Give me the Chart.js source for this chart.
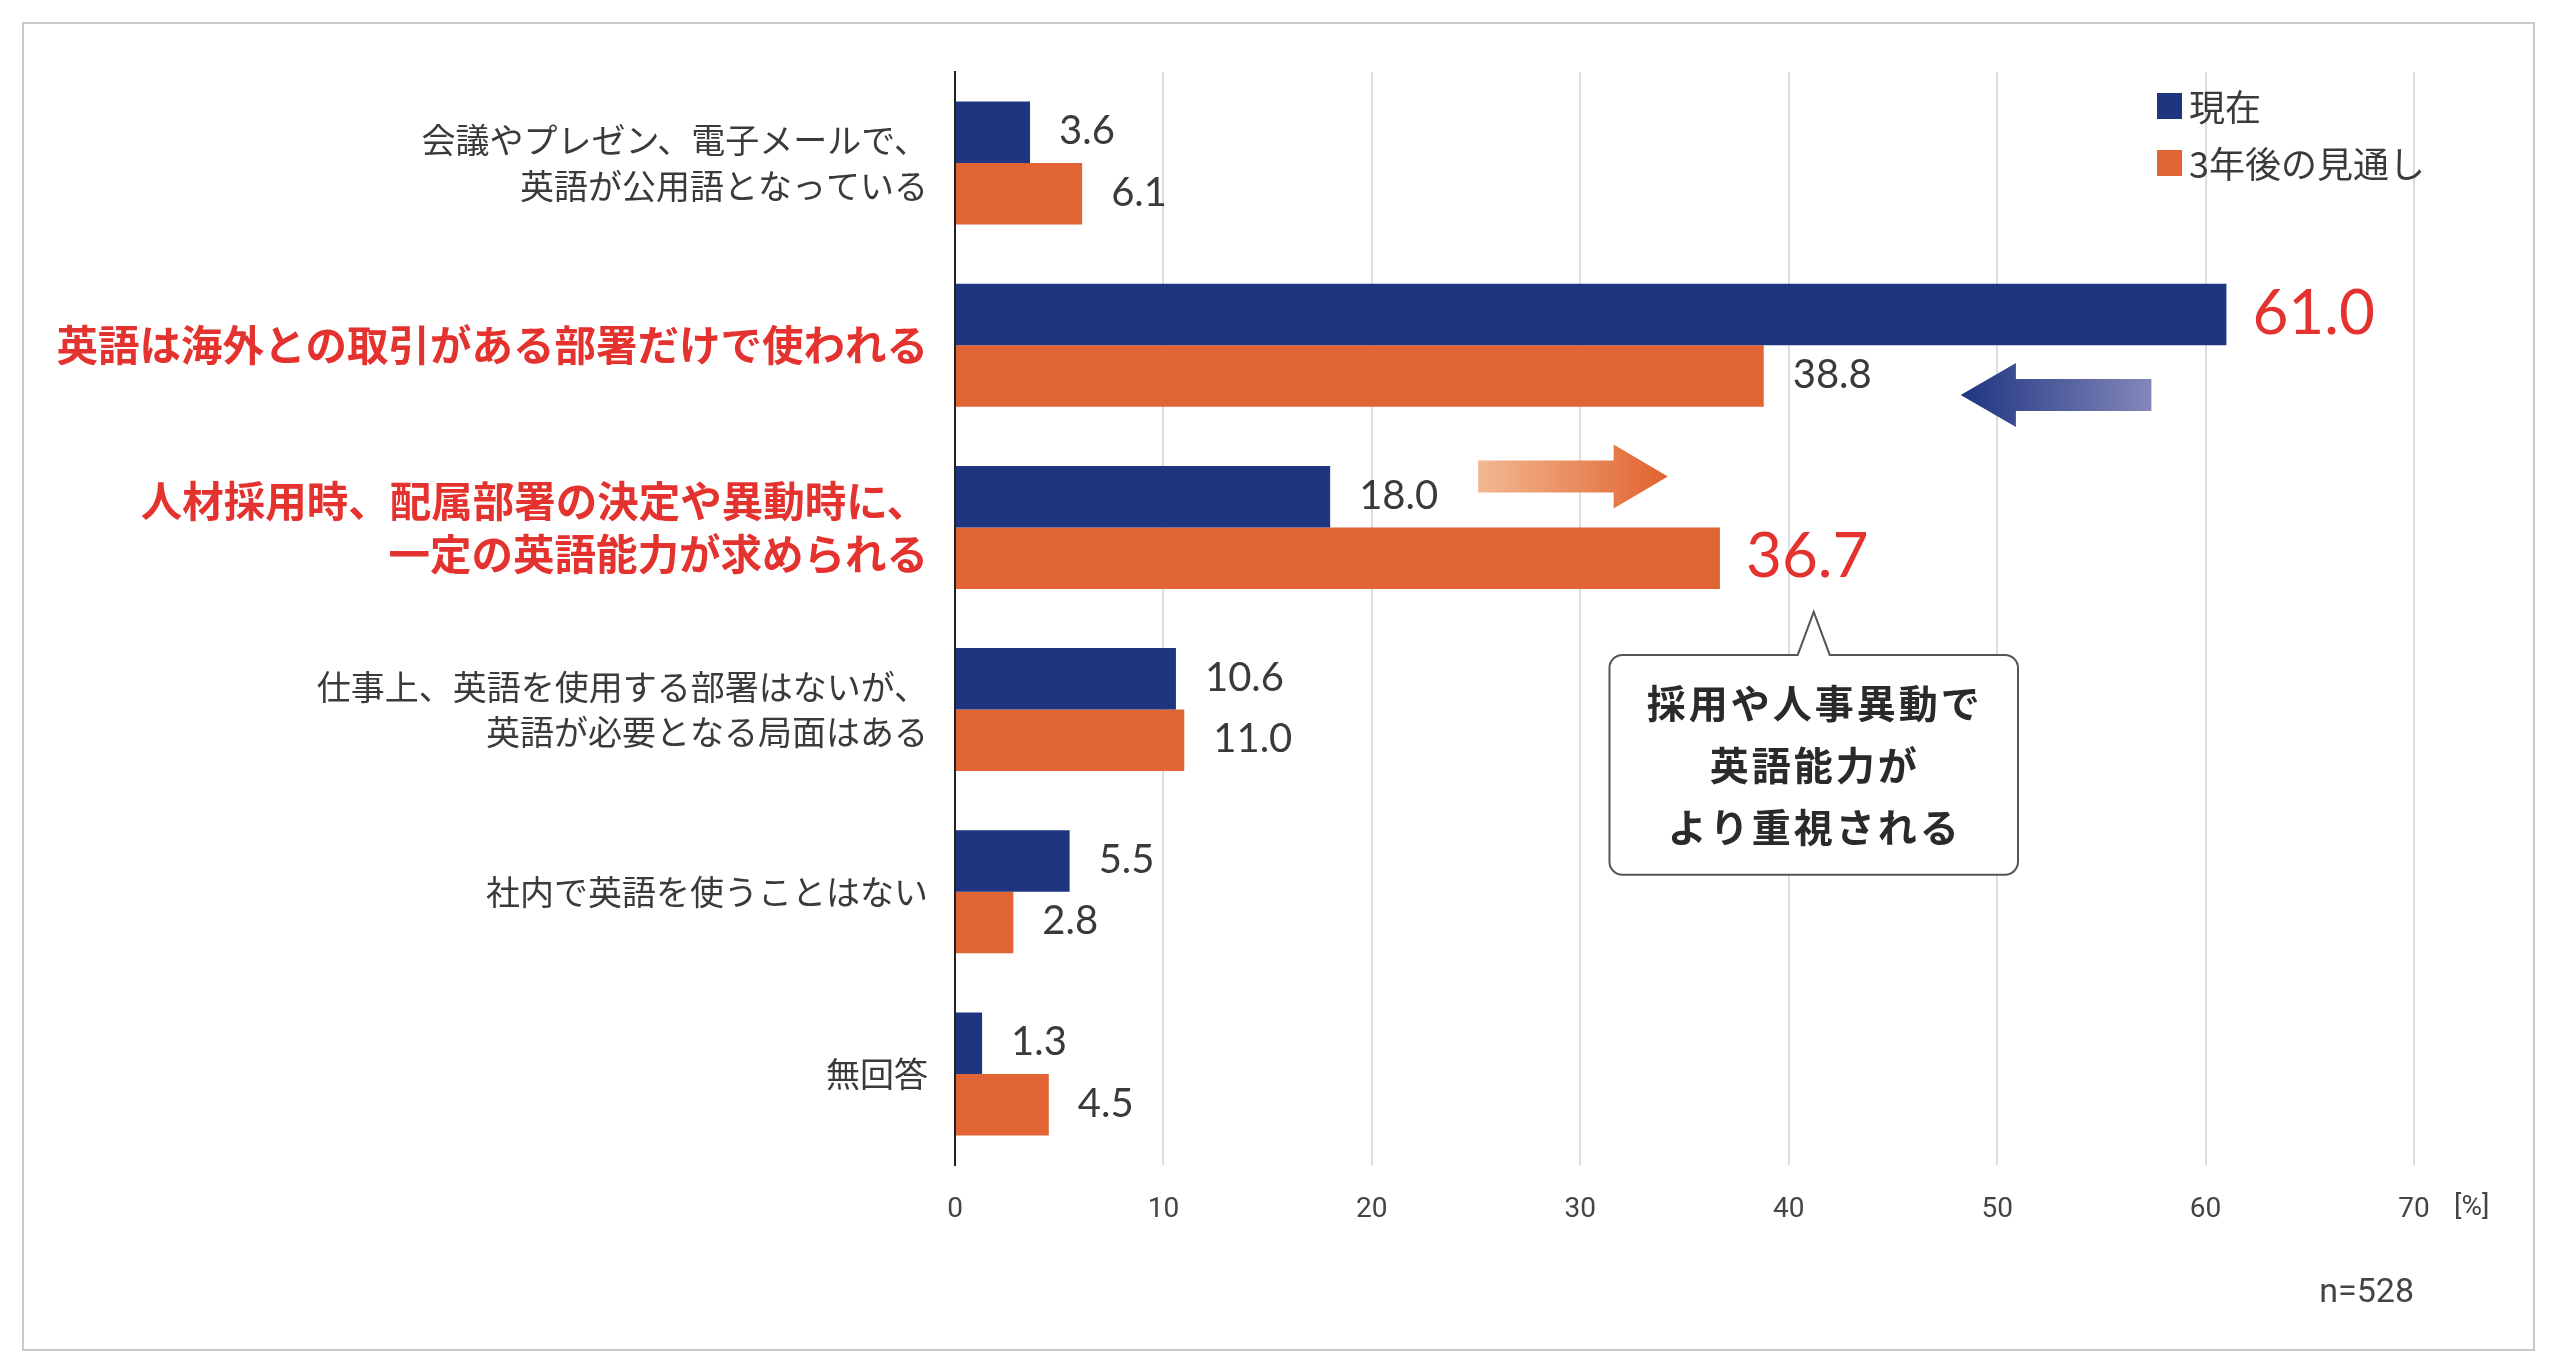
<!DOCTYPE html>
<html lang="ja">
<head>
<meta charset="utf-8">
<title>社内での英語の使われ方</title>
<script src="https://cdn.jsdelivr.net/npm/chart.js@4.4.1/dist/chart.umd.min.js"></script>
<style>
  html, body { margin: 0; padding: 0; background: #fff; overflow: hidden; }
  #wrap { position: relative; width: 2560px; height: 1371px; }
</style>
</head>
<body>
<div id="wrap"><canvas id="englishChart"></canvas></div>
<script>
// categories (top to bottom), multi-line where the original wraps
const categories = [
  ['会議やプレゼン、電子メールで、', '英語が公用語となっている'],
  '英語は海外との取引がある部署だけで使われる',
  ['人材採用時、配属部署の決定や異動時に、', '一定の英語能力が求められる'],
  ['仕事上、英語を使用する部署はないが、', '英語が必要となる局面はある'],
  '社内で英語を使うことはない',
  '無回答'
];
const seriesNames = ['現在', '3年後の見通し'];
const nowValues = [3.6, 61.0, 18.0, 10.6, 5.5, 1.3];
const futureValues = [6.1, 38.8, 36.7, 11.0, 2.8, 4.5];
const xTicks = [0, 10, 20, 30, 40, 50, 60, 70];
const redCategories = [1, 2];
const bigValues = [[0, 1], [1, 2]]; // [dataset, index]
const calloutLines = ['採用や人事異動で', '英語能力が', 'より重視される'];
const sampleNote = 'n=528';
const unitLabel = '[%]';

const NAVY = '#1e3580';
const ORANGE = '#e06434';
const RED = '#e4322f';
const TEXT = '#3a3a3a';
const JP = '"Noto Sans CJK JP", "Noto Sans", sans-serif';
const NUM = 'Lato, "Noto Sans", sans-serif';
const NARROW = '"Liberation Sans Narrow", Roboto, "Noto Sans", sans-serif';

// white page + light frame
const framePlugin = {
  id: 'frame',
  beforeDraw(chart) {
    const ctx = chart.ctx;
    ctx.save();
    ctx.fillStyle = '#fff';
    ctx.fillRect(0, 0, chart.width, chart.height);
    ctx.strokeStyle = '#c9c9c9';
    ctx.lineWidth = 2;
    ctx.strokeRect(23, 23, 2511, 1327);
    ctx.restore();
  }
};

// numbers at the end of each bar
const valueLabels = {
  id: 'valueLabels',
  afterDatasetsDraw(chart) {
    const ctx = chart.ctx;
    ctx.save();
    ctx.textBaseline = 'middle';
    ctx.textAlign = 'left';
    chart.data.datasets.forEach((ds, di) => {
      chart.getDatasetMeta(di).data.forEach((bar, i) => {
        const big = bigValues.some(b => b[0] === di && b[1] === i);
        ctx.fillStyle = big ? RED : TEXT;
        ctx.font = big ? '62px ' + NUM : '40px ' + NUM;
        ctx.fillText(ds.data[i].toFixed(1), bar.x + (big ? 26 : 29), bar.y - 1);
      });
    });
    ctx.restore();
  }
};

// legend in the upper right of the plot
const cornerLegend = {
  id: 'cornerLegend',
  afterDraw(chart) {
    const ctx = chart.ctx;
    const a = chart.chartArea;
    ctx.save();
    ctx.font = '36px ' + JP;
    ctx.textBaseline = 'middle';
    chart.data.datasets.forEach((ds, i) => {
      const cy = a.top + 34 + i * 57;
      const x = a.right - 257;
      ctx.fillStyle = ds.backgroundColor;
      ctx.fillRect(x, cy - 13, 25, 26);
      ctx.fillStyle = TEXT;
      ctx.fillText(ds.label, x + 32, cy + 1);
    });
    ctx.restore();
  }
};

function arrow(ctx, tail, headBase, tip, y, headH, shaftH, c0, c1) {
  const g = ctx.createLinearGradient(tail, 0, tip, 0);
  g.addColorStop(0, c0);
  g.addColorStop(1, c1);
  ctx.fillStyle = g;
  ctx.beginPath();
  ctx.moveTo(tail, y - shaftH);
  ctx.lineTo(headBase, y - shaftH);
  ctx.lineTo(headBase, y - headH);
  ctx.lineTo(tip, y);
  ctx.lineTo(headBase, y + headH);
  ctx.lineTo(headBase, y + shaftH);
  ctx.lineTo(tail, y + shaftH);
  ctx.closePath();
  ctx.fill();
}

// arrows, speech bubble, n= note and unit
const notes = {
  id: 'notes',
  afterDraw(chart) {
    const ctx = chart.ctx;
    const xs = chart.scales.x, ys = chart.scales.y;
    const X = v => xs.getPixelForValue(v);
    const Y = v => ys.getPixelForValue(v);
    ctx.save();

    arrow(ctx, X(57.4), X(50.9), X(48.25), Y(1.273), 32, 16, '#8487ba', '#1e3580');
    arrow(ctx, X(25.1), X(31.6), X(34.2), Y(1.72), 32, 16, '#f3b891', '#e0622e');

    // speech bubble
    const l = X(31.4), r = X(51.0), t = Y(2.70), b = Y(3.907), rad = 13;
    const ax = X(41.2), ay = Y(2.464);
    ctx.beginPath();
    ctx.moveTo(l + rad, t);
    ctx.lineTo(ax - 16, t);
    ctx.lineTo(ax, ay);
    ctx.lineTo(ax + 16, t);
    ctx.lineTo(r - rad, t);
    ctx.arcTo(r, t, r, t + rad, rad);
    ctx.lineTo(r, b - rad);
    ctx.arcTo(r, b, r - rad, b, rad);
    ctx.lineTo(l + rad, b);
    ctx.arcTo(l, b, l, b - rad, rad);
    ctx.lineTo(l, t + rad);
    ctx.arcTo(l, t, l + rad, t, rad);
    ctx.closePath();
    ctx.fillStyle = '#fff';
    ctx.fill();
    ctx.strokeStyle = '#555';
    ctx.lineWidth = 2;
    ctx.stroke();

    ctx.fillStyle = '#2a2a2a';
    ctx.font = 'bold 39px ' + JP;
    ctx.textAlign = 'center';
    ctx.textBaseline = 'middle';
    if ('letterSpacing' in ctx) ctx.letterSpacing = '3px';
    const mid = (t + b) / 2;
    calloutLines.forEach((line, i) => {
      ctx.fillText(line, (l + r) / 2 + 1, mid + (i - 1) * 62);
    });
    if ('letterSpacing' in ctx) ctx.letterSpacing = '0px';

    ctx.fillStyle = '#444';
    ctx.font = '34px ' + NARROW;
    ctx.textAlign = 'right';
    ctx.fillText(sampleNote, X(70), 1293);
    ctx.textAlign = 'left';
    ctx.font = '28px ' + NARROW;
    ctx.fillText(unitLabel, X(70) + 40, chart.chartArea.bottom + 43);
    ctx.restore();
  }
};

new Chart(document.getElementById('englishChart'), {
  type: 'bar',
  data: {
    labels: categories,
    datasets: [
      { label: seriesNames[0], data: nowValues, backgroundColor: NAVY },
      { label: seriesNames[1], data: futureValues, backgroundColor: ORANGE }
    ]
  },
  options: {
    indexAxis: 'y',
    responsive: true,
    maintainAspectRatio: false,
    animation: false,
    categoryPercentage: 0.675,
    barPercentage: 1.0,
    layout: { padding: { top: 72, right: 146, bottom: 0, left: 0 } },
    plugins: {
      legend: { display: false },
      tooltip: { enabled: false }
    },
    scales: {
      x: {
        min: 0,
        max: 70,
        afterBuildTicks: s => { s.ticks = xTicks.map(v => ({ value: v })); },
        afterFit: s => { s.height = 206; },
        border: { display: false },
        grid: {
          drawTicks: false,
          lineWidth: 2,
          color: c => (c.tick && c.tick.value === 0) ? 'rgba(0,0,0,0)' : '#dcdde0'
        },
        ticks: {
          padding: 28,
          color: '#444',
          font: { family: NARROW, size: 28 }
        }
      },
      y: {
        afterFit: s => { s.width = 955; },
        border: { display: true, color: '#222', width: 2 },
        grid: { display: false, drawTicks: false },
        ticks: {
          padding: 27,
          color: c => redCategories.includes(c.index) ? RED : TEXT,
          font: c => redCategories.includes(c.index)
            ? { family: JP, size: 41.5, weight: 'bold', lineHeight: 1.27 }
            : { family: JP, size: 34, lineHeight: 1.35 }
        }
      }
    }
  },
  plugins: [framePlugin, valueLabels, cornerLegend, notes]
});
</script>
</body>
</html>
